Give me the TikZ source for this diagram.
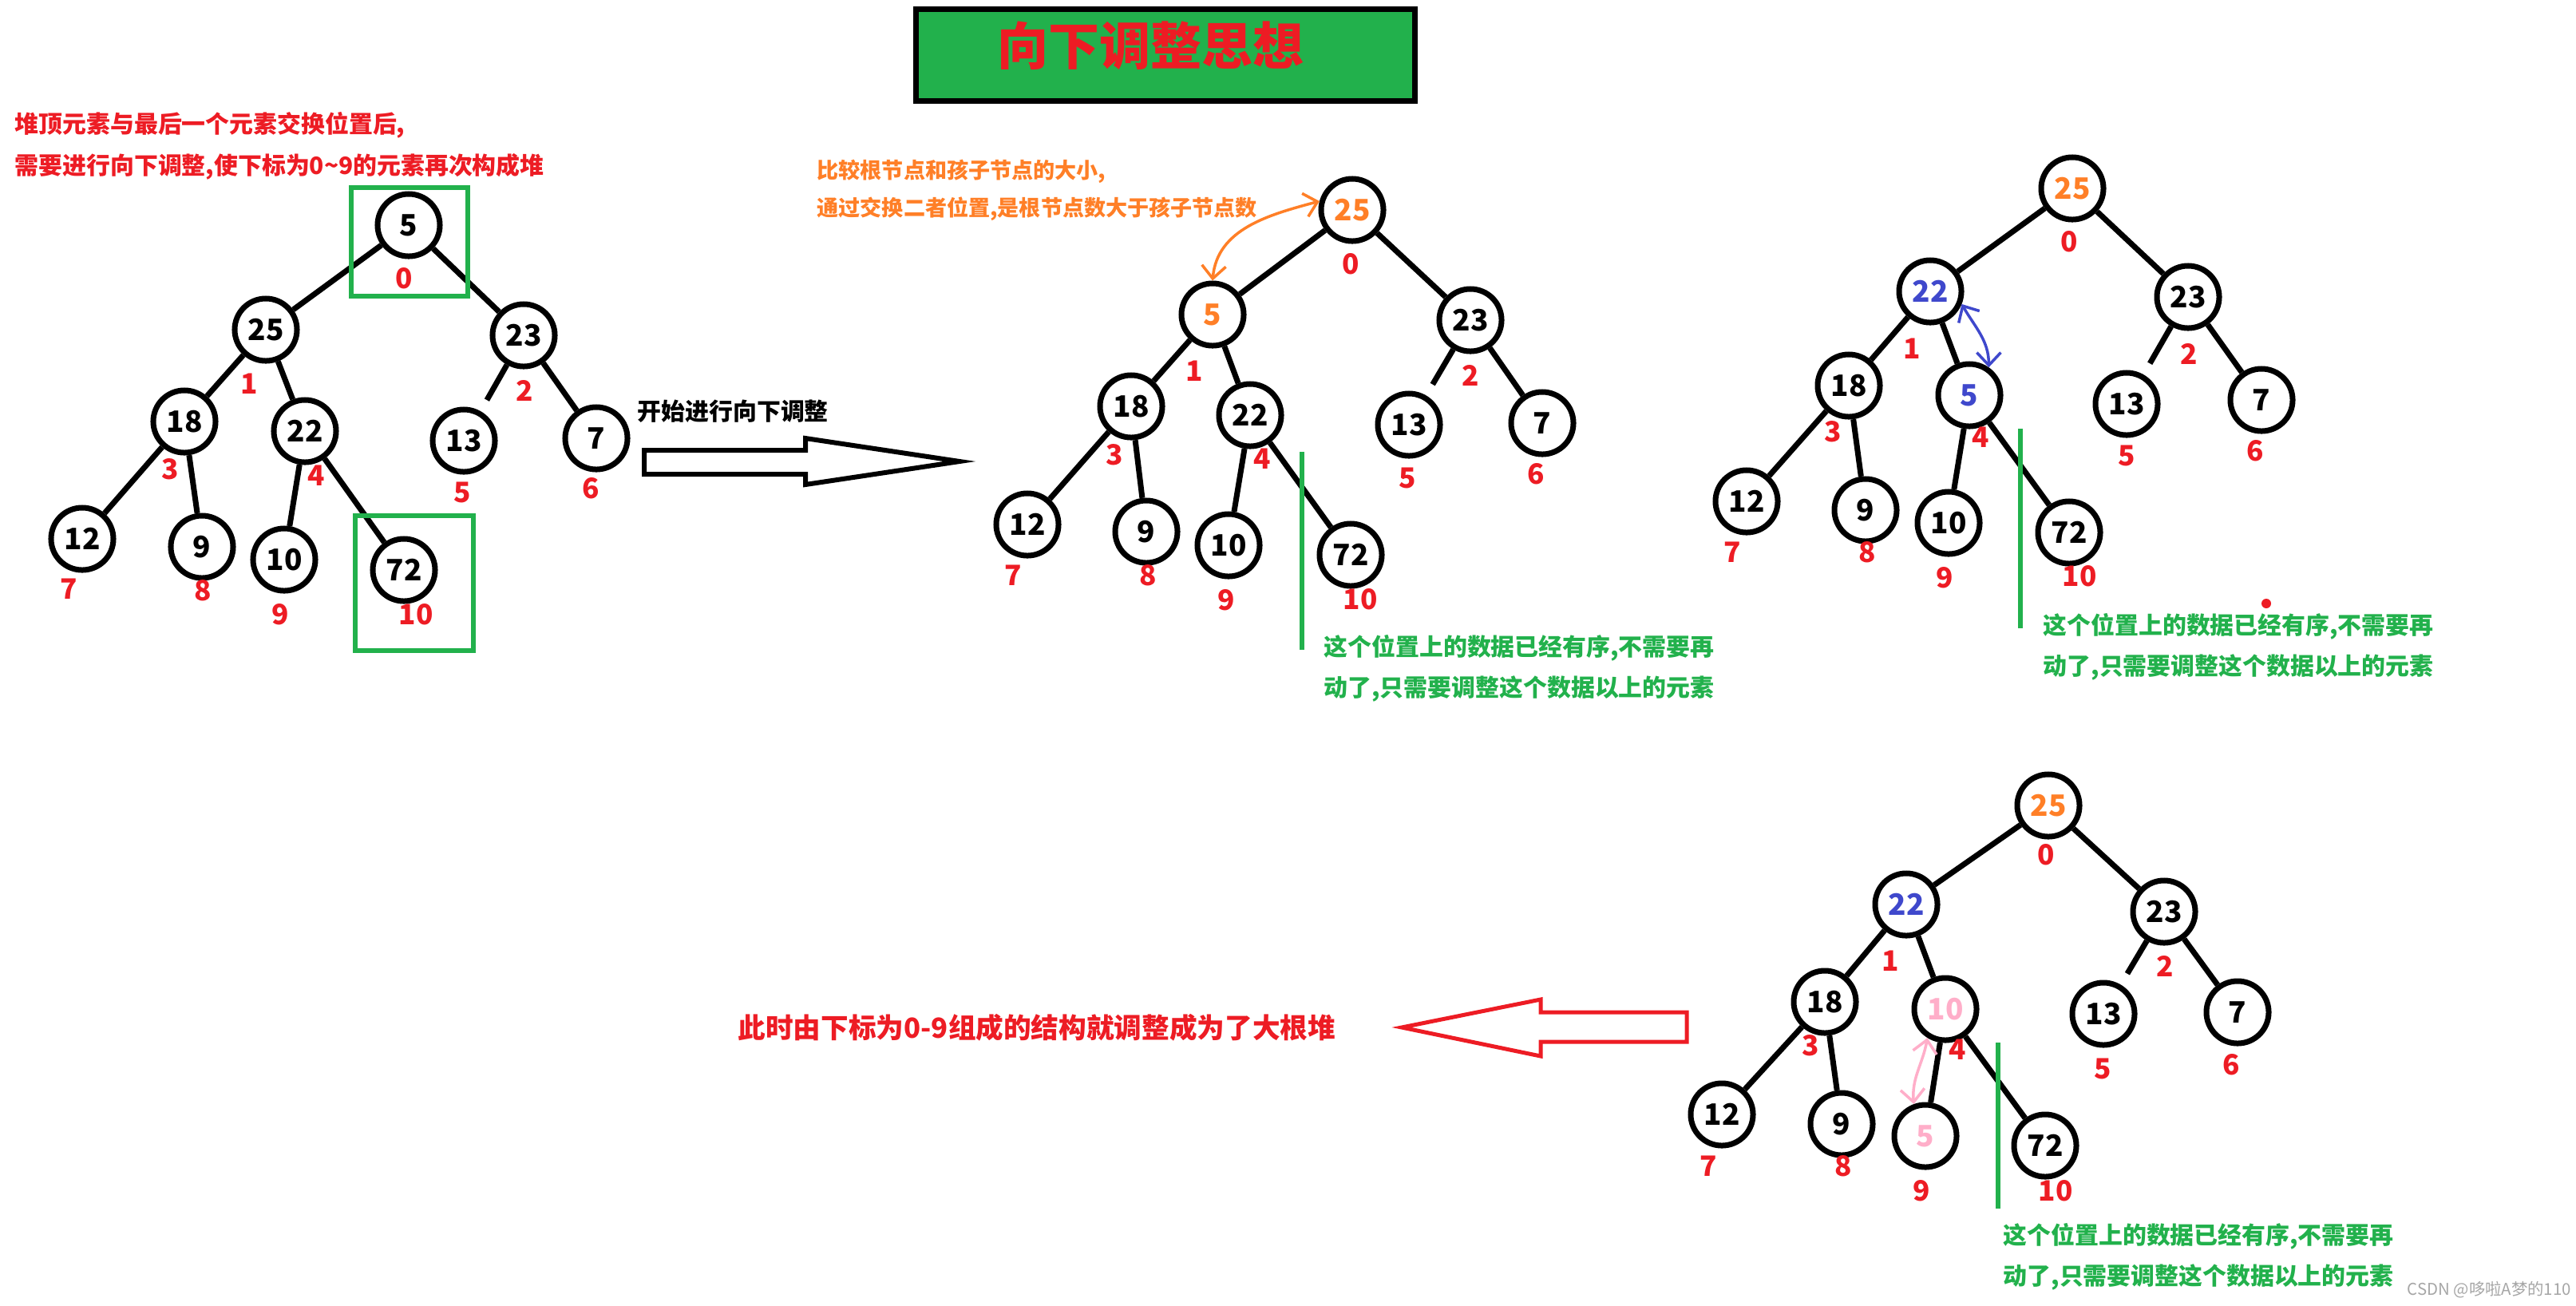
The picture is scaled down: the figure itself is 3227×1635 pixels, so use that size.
\documentclass[tikz,border=0pt]{standalone}
\usepackage{fontspec}
\setmainfont{Noto Sans CJK SC}
\usetikzlibrary{arrows.meta}
\definecolor{paintred}{HTML}{ED1C24}
\definecolor{paintgreen}{HTML}{22B14C}
\definecolor{paintorange}{HTML}{FF7F27}
\definecolor{paintblue}{HTML}{3F48CC}
\definecolor{paintpink}{HTML}{FFAEC9}

\begin{document}
\begin{tikzpicture}
  [x=0.01cm,y=-0.01cm,
   vnode/.style={circle,draw,line width=0.07cm,minimum size=0.78cm,inner sep=0pt,
     font=\fontsize{10.5}{10}\selectfont\bfseries},
   idx/.style={text=paintred,inner sep=0pt,font=\fontsize{10}{10}\selectfont\bfseries},
   edge/.style={line width=0.07cm},
   note/.style={anchor=west,inner sep=0pt,font=\fontsize{8.5}{10}\selectfont\bfseries},
   swap/.style={line width=0.035cm,
     {Straight Barb[length=0.16cm,width=0.3cm]}-{Straight Barb[length=0.16cm,width=0.3cm]}},
   hollow/.style={line width=0.06cm,line join=miter}]
  \useasboundingbox (0,0) rectangle (3227,1635);

  % title
  \node[draw,fill=paintgreen,line width=0.07cm,minimum width=6.25cm,minimum height=1.15cm]
    (title) at (1460,69) {};
  \node[text=paintred,font=\fontsize{18.2}{20}\selectfont\bfseries] (titletext) at (1441,57) {向下调整思想};

  % tree A: after swapping top and last
  \foreach \n/\v/\c/\x/\y/\lx/\ly in {0/5/black/512/282/506/349, 1/25/black/333/413/312/481,
      2/23/black/656/420/657/489, 3/18/black/231/528/213/588, 4/22/black/382/540/396/596,
      5/13/black/581/552/579/617, 6/7/black/747/549/740/612, 7/12/black/103/675/86/738,
      8/9/black/253/685/254/740, 9/10/black/356/701/351/770, 10/72/black/506/714/521/770}
    {\node[vnode,text=\c] (A\n) at (\x,\y) {\v};
     \node[idx] (A\n l) at (\lx,\ly) {\n};}

  % tree B
  \foreach \n/\v/\c/\x/\y/\lx/\ly in {0/25/paintorange/1694/263/1692/331, 1/5/paintorange/1519/394/1496/465,
      2/23/black/1842/401/1842/470, 3/18/black/1417/509/1396/570, 4/22/black/1566/520/1581/575,
      5/13/black/1765/532/1763/599, 6/7/black/1932/530/1924/594, 7/12/black/1287/657/1269/721,
      8/9/black/1436/666/1438/721, 9/10/black/1539/683/1536/752, 10/72/black/1692/695/1704/751}
    {\node[vnode,text=\c] (B\n) at (\x,\y) {\v};
     \node[idx] (B\n l) at (\lx,\ly) {\n};}

  % tree C
  \foreach \n/\v/\c/\x/\y/\lx/\ly in {0/25/paintorange/2596/236/2592/303, 1/22/paintblue/2418/365/2395/437,
      2/23/black/2741/372/2742/443, 3/18/black/2316/483/2296/541, 4/5/paintblue/2467/495/2481/548,
      5/13/black/2664/506/2664/571, 6/7/black/2833/501/2825/565, 7/12/black/2188/628/2170/692,
      8/9/black/2337/639/2339/692, 9/10/black/2441/655/2436/724, 10/72/black/2592/667/2605/722}
    {\node[vnode,text=\c] (C\n) at (\x,\y) {\v};
     \node[idx] (C\n l) at (\lx,\ly) {\n};}

  % tree D
  \foreach \n/\v/\c/\x/\y/\lx/\ly in {0/25/paintorange/2566/1009/2563/1071, 1/22/paintblue/2388/1133/2368/1204,
      2/23/black/2711/1142/2712/1210, 3/18/black/2286/1255/2268/1310, 4/10/paintpink/2437/1264/2452/1315,
      5/13/black/2635/1270/2634/1339, 6/7/black/2803/1268/2795/1334, 7/12/black/2157/1396/2140/1461,
      8/9/black/2307/1408/2309/1461, 9/5/paintpink/2412/1423/2407/1492, 10/72/black/2562/1435/2575/1492}
    {\node[vnode,text=\c] (D\n) at (\x,\y) {\v};
     \node[idx] (D\n l) at (\lx,\ly) {\n};}

  \foreach \t in {A,B,C,D}{
    \foreach \from/\to in {0/1,0/2,1/3,1/4,2/6,3/7,3/8,4/9,4/10}
      \draw[edge] (\t\from) -- (\t\to);
    \draw[edge,shorten >=0.16cm] (\t2) -- (\t5);
  }

  % boxes on tree A
  \draw[paintgreen,line width=0.06cm] (440,235) rectangle (586,371);
  \draw[paintgreen,line width=0.06cm] (445,646) rectangle (593,815);

  % notes
  \node[note,text=paintred] (topnote1) at (18,157) {堆顶元素与最后一个元素交换位置后,};
  \node[note,text=paintred] (topnote2) at (18,209) {需要进行向下调整,使下标为0\textasciitilde9的元素再次构成堆};
  \node[note] (startnote) at (798,515) {开始进行向下调整};
  \node[note,text=paintorange,font=\fontsize{7.7}{10}\selectfont\bfseries] (cmpnote1) at (1023,215) {比较根节点和孩子节点的大小,};
  \node[note,text=paintorange,font=\fontsize{7.7}{10}\selectfont\bfseries] (cmpnote2) at (1023,262) {通过交换二者位置,是根节点数大于孩子节点数};
  \foreach \t/\x/\y in {B/1658/812, C/2559/785, D/2509/1549}{
    \node[note,text=paintgreen] (\t note1) at (\x,\y) {这个位置上的数据已经有序,不需要再};
    \node[note,text=paintgreen] (\t note2) at (\x,\y+51) {动了,只需要调整这个数据以上的元素};
  }
  \node[note,text=paintred,font=\fontsize{9.85}{12}\selectfont\bfseries] (endnote) at (924,1287) {此时由下标为0-9组成的结构就调整成为了大根堆};
  \node[note,text=gray!70,font=\fontsize{5.8}{7}\selectfont] (mark) at (3015,1616) {CSDN @哆啦A梦的110};

  % sorted lines
  \draw[paintgreen,line width=0.06cm] (1631,566) -- (1631,814);
  \draw[paintgreen,line width=0.06cm] (2531,537) -- (2531,787);
  \draw[paintgreen,line width=0.06cm] (2503,1306) -- (2503,1514);
  \fill[paintred] (2839,756) circle (6);

  % swaps
  \draw[swap,paintorange] (B1.north) to[out=85,in=195] (B0.165);
  \draw[swap,paintblue] (C1.-22) to[out=-60,in=90] (C4.55);
  \draw[swap,paintpink] (D4.-122) to[out=-100,in=95] (D9.110);

  % big arrows
  \draw[hollow] (807,564) -- (1009,564) -- (1009,549) -- (1202,578) -- (1009,607)
    -- (1009,594) -- (807,594) -- cycle;
  \draw[hollow,paintred,line width=0.05cm] (1756,1287) -- (1930,1252) -- (1930,1268) -- (2113,1268)
    -- (2113,1305) -- (1930,1305) -- (1930,1323) -- cycle;
\end{tikzpicture}
\end{document}
